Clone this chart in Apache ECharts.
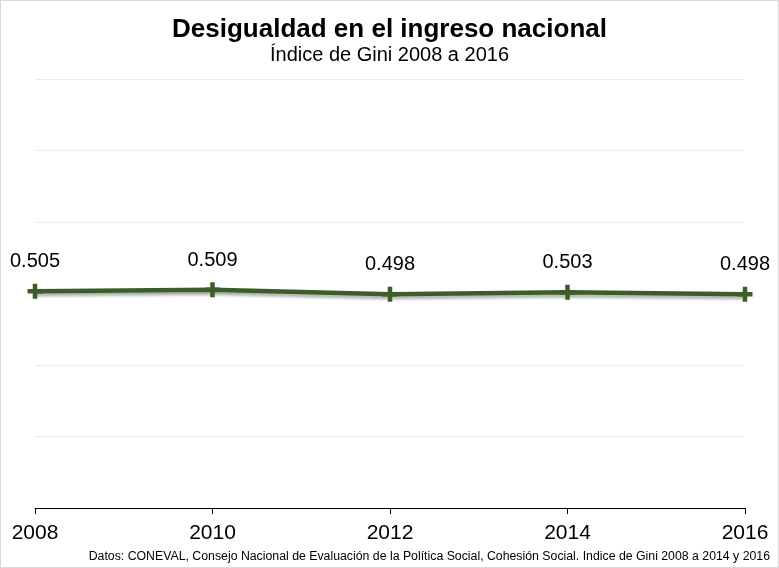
<!DOCTYPE html>
<html>
<head>
<meta charset="utf-8">
<script src="https://cdn.jsdelivr.net/npm/echarts@6/dist/echarts.min.js"></script>
<style>
  html, body { margin: 0; padding: 0; background: #fff; }
  #main { width: 777px; height: 566px; border: 1px solid #d9d9d9; }
</style>
</head>
<body>
<div id="main"></div>
<script>
// datos del indice de Gini
var years = ["2008", "2010", "2012", "2014", "2016"];
var gini = [0.505, 0.509, 0.498, 0.503, 0.498];

var chartDom = document.getElementById("main");
var myChart = echarts.init(chartDom);
var plus = "path://M3.5,0H6.5V3.5H10V6.5H6.5V10H3.5V6.5H0V3.5H3.5Z";

var option = {
  animation: false,
  textStyle: { fontFamily: "Liberation Sans" },
  title: [
    {
      text: "Desigualdad en el ingreso nacional",
      left: "center",
      top: 11,
      textStyle: { fontSize: 26, fontWeight: "bold", color: "#000" }
    },
    {
      text: "Índice de Gini 2008 a 2016",
      left: "center",
      top: 39,
      textStyle: { fontSize: 20, fontWeight: "normal", color: "#000" }
    },
    {
      text: "Datos: CONEVAL, Consejo Nacional de Evaluación de la Política Social, Cohesión Social. Indice de Gini 2008 a 2014 y 2016",
      right: 3,
      top: 545,
      textStyle: { fontSize: 12.3, fontWeight: "normal", color: "#000" }
    }
  ],
  grid: { left: 34, right: 33, top: 78, bottom: 59 },
  xAxis: {
    type: "category",
    data: years,
    boundaryGap: false,
    axisLine: { lineStyle: { color: "#000", width: 1 } },
    axisTick: { length: 6, lineStyle: { color: "#000" } },
    axisLabel: { fontSize: 21, color: "#000", margin: 15 }
  },
  yAxis: {
    type: "value",
    min: 0,
    max: 1,
    interval: 1 / 6,
    axisLine: { show: false },
    axisTick: { show: false },
    axisLabel: { show: false },
    splitLine: { lineStyle: { color: "#d9d9d9", type: "dotted" } }
  },
  series: [
    {
      type: "line",
      data: gini,
      symbol: plus,
      symbolSize: 15,
      lineStyle: {
        color: "#3b5e29",
        width: 4.5,
        shadowColor: "rgba(0,0,0,0.3)",
        shadowBlur: 3,
        shadowOffsetY: 3
      },
      itemStyle: { color: "#3b5e29" },
      label: {
        show: true,
        position: "top",
        distance: 12,
        fontSize: 20,
        color: "#000",
        formatter: function (p) { return p.value.toFixed(3); }
      }
    }
  ]
};
option && myChart.setOption(option);
</script>
</body>
</html>
